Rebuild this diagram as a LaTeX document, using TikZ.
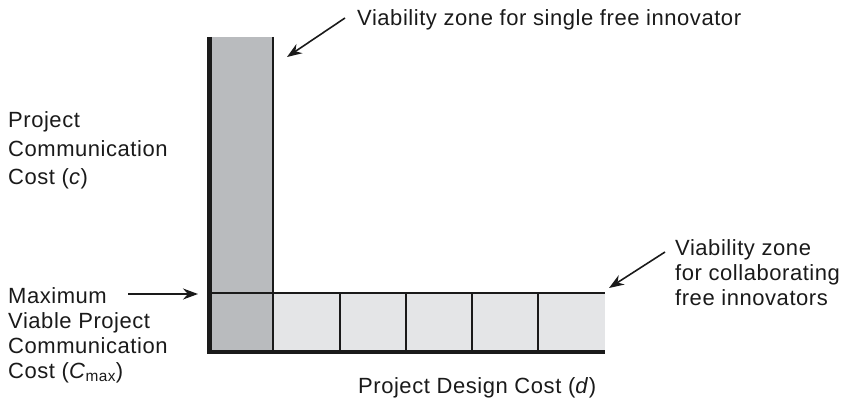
\documentclass[tikz,border=0pt]{standalone}
\usepackage{fontspec}
\setmainfont{Liberation Sans}[LetterSpace=2.5]
\usetikzlibrary{arrows.meta}
\definecolor{darkzone}{HTML}{B9BBBE}
\definecolor{lightzone}{HTML}{E4E5E7}
\definecolor{ink}{HTML}{1A1A1A}
\begin{document}
\begin{tikzpicture}[x=1pt,y=-1pt,
  lbl/.style={anchor=base west, inner sep=0pt, align=left, text=ink,
    font=\fontsize{22}{25}\selectfont},
  ptr/.style={-{Stealth[length=15pt,width=11pt]}, line width=1.6pt, draw=ink},
  grid/.style={line width=1.6pt, draw=ink},
  axis/.style={line width=4.2pt, draw=ink, line cap=butt, line join=miter}]
\useasboundingbox (0,0) rectangle (845,403);
% zones
\fill[darkzone] (209,37) rectangle (273,352);
\fill[lightzone] (273,293) rectangle (605,352);
\draw[grid] (273,37) -- (273,352);
\foreach \x in {340,406,472,538} \draw[grid] (\x,293) -- (\x,352);
\draw[grid] (209,293) -- (605,293);
\draw[axis] (209.5,37) -- (209.5,352) -- (605,352);
% targets
\coordinate (tipA) at (287,57);
\coordinate (tipB) at (609,288);
\coordinate (tipC) at (198,294);
% labels (base anchor = baseline of the last line)
\node[lbl] (single) at (357,26) {Viability zone for single free innovator};
\node[lbl] (collab) at (675,305) {Viability zone\\for collaborating\\free innovators};
\node[lbl] (pcc) at (8,185) {Project\\[3.5pt]Communication\\[3.5pt]Cost (\textit{c})};
\node[lbl] (maxc) at (8,378) {Maximum\\Viable Project\\Communication\\Cost (\textit{C}\textsubscript{max})};
\node[lbl] (pdc) at (358,393) {Project Design Cost (\textit{d})};
% pointers
\coordinate (sA) at (345,18);
\coordinate (sB) at (665,252);
\coordinate (sC) at (128,294);
\draw[ptr] (sA) -- (tipA);
\draw[ptr] (sB) -- (tipB);
\draw[ptr] (sC) -- (tipC);
\end{tikzpicture}
\end{document}
